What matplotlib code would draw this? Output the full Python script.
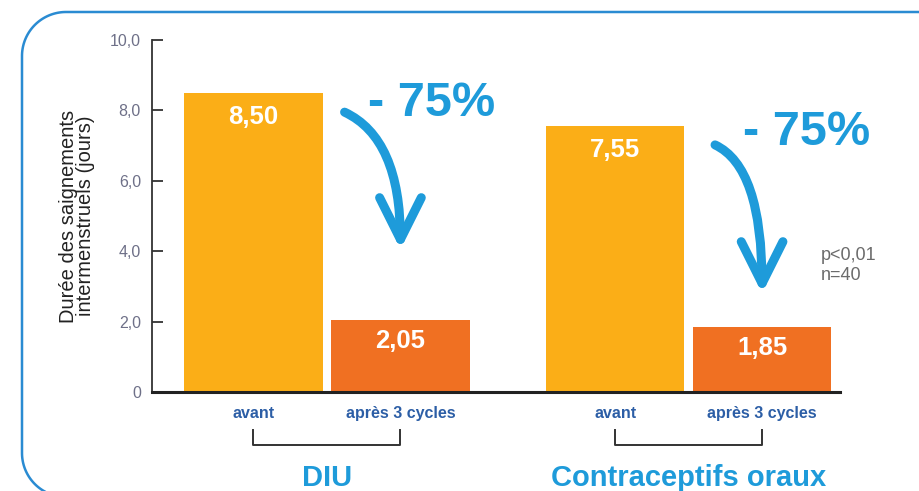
import matplotlib
matplotlib.use("Agg")
import numpy as np
import matplotlib.pyplot as plt
import matplotlib.transforms as mtransforms

# ---- data ----
groups = ["DIU", "Contraceptifs oraux"]
bar_labels = ["avant", "après 3 cycles"]
avant_values = [8.50, 7.55]
apres_values = [2.05, 1.85]
value_texts_avant = ["8,50", "7,55"]
value_texts_apres = ["2,05", "1,85"]
reduction_texts = ["- 75%", "- 75%"]
ytick_values = [0, 2, 4, 6, 8, 10]
ytick_labels = ["0", "2,0", "4,0", "6,0", "8,0", "10,0"]
ylabel = "Durée des saignements\nintermenstruels (jours)"
stats_text = "p<0,01\nn=40"

# ---- style ----
C_AVANT = "#FBAE17"
C_APRES = "#F07022"
C_BLUE = "#1E9BDA"
C_DKBLUE = "#2C5EA6"
FONT = "Liberation Sans"

W, H = 919, 491
fig = plt.figure(figsize=(W / 100, H / 100), dpi=100)

# background frame (right and bottom edges fall outside the picture)
bg = fig.add_axes([0, 0, 1, 1])
bg.set_xlim(0, W)
bg.set_ylim(H, 0)
bg.axis("off")
r = 44
left, top, bottom = 22, 12, 497
t_up = np.linspace(np.pi / 2, 0, 40)
t_dn = np.linspace(0, np.pi / 2, 40)
cx = left + r
fx = np.concatenate([[W + 20], cx - r * np.cos(t_up), cx - r * np.cos(t_dn), [W + 20]])
fy = np.concatenate([[top], top + r - r * np.sin(t_up), bottom - r + r * np.sin(t_dn), [bottom]])
bg.plot(fx, fy, color="#2A8BD2", lw=1.8, solid_capstyle="butt")

# main axes
ax = fig.add_axes([152 / W, 1 - 392 / H, (840 - 152) / W, (392 - 40) / H])
ax.patch.set_alpha(0)

group_pos = [0.69, 3.15]
gap = 1.0
width = 0.94
x_avant = group_pos
x_apres = [p + gap for p in group_pos]

ax.bar(x_avant, avant_values, width=width, color=C_AVANT, zorder=2)
ax.bar(x_apres, apres_values, width=width, color=C_APRES, zorder=2)

for xa, va, ta, xb, vb, tb in zip(x_avant, avant_values, value_texts_avant,
                                   x_apres, apres_values, value_texts_apres):
    ax.text(xa, va - 0.68, ta, ha="center", va="center", color="white",
            fontsize=18.5, fontweight="bold", family=FONT, zorder=3)
    ax.text(xb, vb - 0.6, tb, ha="center", va="center", color="white",
            fontsize=18.5, fontweight="bold", family=FONT, zorder=3)

ax.set_xlim(0, 4.68)
ax.set_ylim(0, 10)

for s in ["top", "right"]:
    ax.spines[s].set_visible(False)
ax.spines["left"].set_color("#333333")
ax.spines["left"].set_linewidth(1.3)
ax.spines["bottom"].set_color("#222222")
ax.spines["bottom"].set_linewidth(2.2)

ax.set_yticks(ytick_values)
ax.set_yticklabels(ytick_labels, family=FONT, fontsize=11.5, color="#6E7088")
ax.tick_params(axis="y", direction="in", length=8, width=1.3, color="#333333", pad=8)

ticks_x = x_avant + x_apres
labels_x = [bar_labels[0]] * len(x_avant) + [bar_labels[1]] * len(x_apres)
ax.set_xticks(ticks_x)
ax.set_xticklabels(labels_x, family=FONT, fontsize=11.5, fontweight="bold",
                   color=C_DKBLUE)
ax.tick_params(axis="x", length=0, pad=10)

ax.set_ylabel(ylabel, family=FONT, fontsize=14.5, color="#222222",
              linespacing=0.85, labelpad=6)
ax.yaxis.set_label_coords(-0.083, 0.5)

# brackets and group labels
trans = mtransforms.blended_transform_factory(ax.transData, ax.transAxes)
for xa, xb, g in zip(x_avant, x_apres, groups):
    ax.plot([xa, xa, xb, xb], [-0.108, -0.15, -0.15, -0.108], color="#333333",
            lw=1.4, transform=trans, clip_on=False)
    ax.text((xa + xb) / 2, -0.245, g, transform=trans, ha="center", va="center",
            family=FONT, fontsize=21, fontweight="bold", color=C_BLUE)

# arrows and reduction texts
arrow_offsets = [(0.62, -0.55, 2.0), (0.68, -0.53, 0.95)]
text_offsets = [(1.21, -0.3), (1.3, -0.19)]
for xa, va, xb, vb, t_, (dx, dy, ey), (tx, ty) in zip(
        x_avant, avant_values, x_apres, apres_values, reduction_texts,
        arrow_offsets, text_offsets):
    ax.annotate("", xy=(xb, vb + ey), xytext=(xa + dx, va + dy),
                arrowprops=dict(arrowstyle="->,head_length=3.0,head_width=1.5",
                                connectionstyle="angle3,angleA=-25,angleB=90",
                                color=C_BLUE, lw=6.5, shrinkA=0, shrinkB=0,
                                capstyle="round", joinstyle="round"),
                zorder=4)
    ax.text(xa + tx, va + ty, t_, ha="center", va="center", family=FONT,
            fontsize=35, fontweight="bold", color=C_BLUE)

ax.text(4.55, 3.6, stats_text, ha="left", va="center", family=FONT,
        fontsize=13, color="#6B6B6B", linespacing=1.25)

fig.savefig("out.png", dpi=100)
